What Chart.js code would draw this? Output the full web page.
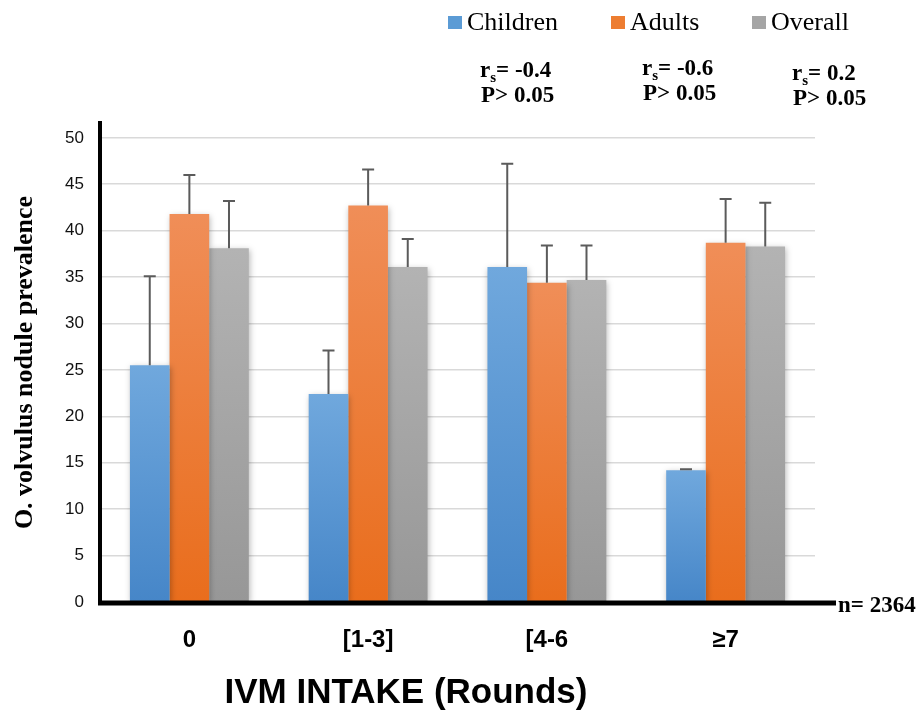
<!DOCTYPE html>
<html>
<head>
<meta charset="utf-8">
<script src="https://cdn.jsdelivr.net/npm/chart.js@4.4.1/dist/chart.umd.min.js"></script>
<style>
  html, body { margin: 0; padding: 0; background: #fff; }
  #wrap { width: 921px; height: 710px; }
</style>
</head>
<body>
<div id="wrap"><canvas id="chart" width="921" height="710"></canvas></div>
<script>
const categories = ['0', '[1-3]', '[4-6', '\u22657'];
const childrenValues = [25.5, 22.4, 36.1, 14.2];
const childrenErr = [9.6, 4.7, 11.1, 0.1];
const adultsValues = [41.8, 42.7, 34.4, 38.7];
const adultsErr = [4.2, 3.9, 4.0, 4.7];
const overallValues = [38.1, 36.1, 34.7, 38.3];
const overallErr = [5.1, 3.0, 3.7, 4.7];
const yTicks = [0, 5, 10, 15, 20, 25, 30, 35, 40, 45, 50];
const stats = [
    { r: '-0.4', p: 'P> 0.05' },
    { r: '-0.6', p: 'P> 0.05' },
    { r: '0.2', p: 'P> 0.05' }
];
const sampleNote = 'n= 2364';

const SANS = '"Liberation Sans", Arial, Helvetica, sans-serif';
const SERIF = '"Liberation Serif", "Times New Roman", serif';

// vertical gradient per bar, light at the top, darker at the base
function barFill(top, bottom) {
    return (c) => {
        const ch = c.chart;
        const area = ch.chartArea;
        if (!area || c.type !== 'data') return bottom;
        const y = ch.scales.y.getPixelForValue(c.raw);
        const g = ch.ctx.createLinearGradient(0, y, 0, area.bottom);
        g.addColorStop(0, top);
        g.addColorStop(1, bottom);
        return g;
    };
}

const errorBars = {
    id: 'errorBars',
    beforeDatasetsDraw(chart) {
        const ctx = chart.ctx;
        ctx.save();
        ctx.shadowColor = 'rgba(0,0,0,0.28)';
        ctx.shadowBlur = 6;
        ctx.shadowOffsetX = 1;
        ctx.shadowOffsetY = 2;
    },
    afterDatasetsDraw(chart) {
        const ctx = chart.ctx;
        ctx.restore();
        const yScale = chart.scales.y;
        ctx.save();
        ctx.strokeStyle = '#5b5b5b';
        ctx.lineWidth = 2;
        chart.data.datasets.forEach((ds, i) => {
            const meta = chart.getDatasetMeta(i);
            meta.data.forEach((bar, j) => {
                const top = yScale.getPixelForValue(ds.data[j] + ds.errors[j]);
                ctx.beginPath();
                ctx.moveTo(bar.x, bar.y);
                ctx.lineTo(bar.x, top);
                ctx.moveTo(bar.x - 6, top);
                ctx.lineTo(bar.x + 6, top);
                ctx.stroke();
            });
        });
        ctx.restore();
    }
};

const decorations = {
    id: 'decorations',
    afterDraw(chart) {
        const ctx = chart.ctx;
        const area = chart.chartArea;
        const y0 = chart.scales.y.getPixelForValue(0);
        ctx.save();

        // long x axis line, runs past the plot
        ctx.strokeStyle = '#000';
        ctx.lineWidth = 5;
        ctx.beginPath();
        ctx.moveTo(area.left - 2, y0 + 1);
        ctx.lineTo(836, y0 + 1);
        ctx.stroke();

        // legend
        const legendItems = [
            { label: 'Children', color: '#5b9bd5', x: 448 },
            { label: 'Adults', color: '#ed7d31', x: 611 },
            { label: 'Overall', color: '#a5a5a5', x: 752 }
        ];
        ctx.font = '26px ' + SERIF;
        ctx.textBaseline = 'alphabetic';
        ctx.textAlign = 'left';
        legendItems.forEach(it => {
            ctx.fillStyle = it.color;
            ctx.fillRect(it.x, 16, 14, 13);
            ctx.fillStyle = '#000';
            ctx.fillText(it.label, it.x + 19, 30);
        });

        // spearman annotations
        const pos = [[480, 77], [642, 75], [792, 80]];
        stats.forEach((s, i) => {
            const [x, y] = pos[i];
            ctx.fillStyle = '#000';
            ctx.font = 'bold 23px ' + SERIF;
            ctx.fillText('r', x, y);
            const rw = ctx.measureText('r').width;
            ctx.font = 'bold 15px ' + SERIF;
            ctx.fillText('s', x + rw, y + 5);
            const sw = ctx.measureText('s').width;
            ctx.font = 'bold 23px ' + SERIF;
            ctx.fillText('= ' + s.r, x + rw + sw, y);
            ctx.fillText(s.p, x + 1, y + 25);
        });

        // sample size
        ctx.font = 'bold 23px ' + SERIF;
        ctx.fillText(sampleNote, 838, 612);

        // x axis title
        ctx.font = 'bold 35px ' + SANS;
        ctx.textAlign = 'center';
        ctx.fillText('IVM INTAKE (Rounds)', 406, 703);
        ctx.restore();
    }
};

new Chart(document.getElementById('chart').getContext('2d'), {
    type: 'bar',
    data: {
        labels: categories,
        datasets: [
            { label: 'Children', data: childrenValues, errors: childrenErr, backgroundColor: barFill('#70a8dd', '#4686c8') },
            { label: 'Adults', data: adultsValues, errors: adultsErr, backgroundColor: barFill('#f08e58', '#e96d1c') },
            { label: 'Overall', data: overallValues, errors: overallErr, backgroundColor: barFill('#b3b3b3', '#979797') }
        ]
    },
    options: {
        responsive: false,
        animation: false,
        devicePixelRatio: 1,
        layout: { padding: { top: 123, right: 106, left: 0, bottom: 0 } },
        datasets: { bar: { categoryPercentage: 0.665, barPercentage: 1.0, borderWidth: 0 } },
        plugins: { legend: { display: false }, tooltip: { enabled: false } },
        scales: {
            x: {
                grid: { display: false, drawTicks: false },
                border: { display: false },
                ticks: {
                    color: '#000',
                    padding: 24,
                    font: { family: SANS, size: 24, weight: 'bold' }
                },
                afterFit: (s) => { s.height = 108; }
            },
            y: {
                min: 0,
                max: 51.6,
                afterBuildTicks: (s) => { s.ticks = yTicks.map(v => ({ value: v })); },
                grid: { color: '#d9d9d9', lineWidth: 1.6, drawTicks: false },
                border: { display: true, color: '#000', width: 4 },
                ticks: {
                    color: '#111',
                    padding: 16,
                    font: { family: SANS, size: 17 }
                },
                title: {
                    display: true,
                    text: 'O. volvulus nodule prevalence',
                    color: '#000',
                    padding: { top: 10, bottom: 0 },
                    font: { family: SERIF, size: 26, weight: 'bold' }
                },
                afterFit: (s) => { s.width = 100; }
            }
        }
    },
    plugins: [errorBars, decorations]
});
</script>
</body>
</html>
